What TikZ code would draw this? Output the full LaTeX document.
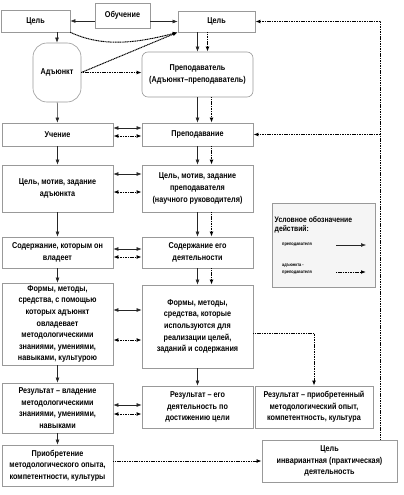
\documentclass[tikz,border=0pt]{standalone}
\usepackage{fontspec}
\setmainfont{Liberation Sans}[FakeStretch=0.85]
\usetikzlibrary{arrows.meta}
\begin{document}
\begin{tikzpicture}[
			x=1pt,y=-1pt,
			box/.style={draw=gray!80,line width=0.6pt,align=center,inner sep=1pt,
					font=\bfseries\fontsize{8.5}{11.6}\selectfont},
			col/.style={box,minimum width=111pt},
			arr/.style={-{Latex[length=5pt,width=3.8pt]},black!85,line width=0.5pt},
			darr/.style={arr,black,dash pattern=on 1.1pt off 0.6pt,line width=1pt},
			darrb/.style={{Latex[length=5pt,width=3.8pt]}-{Latex[length=5pt,width=3.8pt]},black,dash pattern=on 1.1pt off 0.6pt,line width=1pt},
			arrb/.style={{Latex[length=5pt,width=3.8pt]}-{Latex[length=5pt,width=3.8pt]},black!85,line width=0.5pt},
			legtxt/.style={font=\bfseries\fontsize{4.6}{6.6}\selectfont,align=left,inner sep=0pt}
		]
		\useasboundingbox (0,0) rectangle (404,495);

		% top row
		\node[box,minimum width=69pt,minimum height=22pt] (celL) at (35.5,21) {Цель};
		\node[box,minimum width=55pt,minimum height=25pt] (obuch) at (122.5,15.5) {Обучение};
		\node[box,minimum width=77pt,minimum height=21pt] (celR) at (216.5,21.5) {Цель};
		\node[box,minimum width=48pt,minimum height=59pt,rounded corners=14pt] (adj) at (57,72.5) {Адъюнкт};
		\node[col,minimum height=45pt,rounded corners=6pt] (prep) at (197.5,74.5) {Преподаватель\\(Адъюнкт–преподаватель)};

		% left column
		\node[col,minimum height=23pt] (uch) at (57.5,134.5) {Учение};
		\node[col,minimum height=47pt] (celL2) at (57.5,188.5) {Цель, мотив, задание\\адъюнкта};
		\node[col,minimum height=31pt] (sodL) at (57.5,252.5) {Содержание, которым он\\владеет};
		\node[col,minimum height=82pt] (formL) at (57.5,324) {Формы, методы,\\средства, с помощью\\которых адъюнкт\\овладевает\\методологическими\\знаниями, умениями,\\навыками, культурою};
		\node[col,minimum height=50pt] (resL) at (57.5,408) {Результат – владение\\методологическими\\знаниями, умениями,\\навыками};
		\node[col,minimum height=41pt] (acq) at (57.5,465.5) {Приобретение\\методологического опыта,\\компетентности, культуры};

		% right column
		\node[col,minimum height=23pt] (prepd) at (197.5,134.5) {Преподавание};
		\node[col,minimum height=47pt] (celR2) at (197.5,188.5) {Цель, мотив, задание\\преподавателя\\(научного руководителя)};
		\node[col,minimum height=31pt] (sodR) at (197.5,252.5) {Содержание его\\деятельности};
		\node[col,minimum height=83pt] (formR) at (197.5,326.5) {Формы, методы,\\средства, которые\\используются для\\реализации целей,\\заданий и содержания};
		\node[col,minimum height=42pt] (resM) at (197.5,407) {Результат – его\\деятельность по\\достижению цели};
		\node[box,minimum width=118pt,minimum height=42pt] (resR) at (314,407) {Результат – приобретенный\\методологический опыт,\\компетентность, культура};
		\node[box,minimum width=135pt,minimum height=42pt] (goal) at (329.5,461) {Цель\\инвариантная (практическая)\\деятельность};

		% legend
		\node[draw=gray!80,fill=gray!8,line width=0.6pt,minimum width=103pt,minimum height=84pt] (legend) at (323.5,245) {};
		\node[legtxt,anchor=north west,font=\bfseries\fontsize{8}{9.5}\selectfont] (legT) at (274.5,216) {Условное обозначение\\действий:};
		\node[legtxt,anchor=west] (legA) at (282,245) {преподавателя};
		\node[legtxt,anchor=west] (legB) at (282,269.5) {адъюнкта -\\преподавателя};
		\coordinate (legA1) at (336,245);
		\coordinate (legA2) at (366,245);
		\coordinate (legB1) at (336,272);
		\coordinate (legB2) at (366,272);
		\draw[arr] (legA1) -- (legA2);
		\draw[darr] (legB1) -- (legB2);

		% top connections
		\draw[arr] (obuch.west |- celL) -- (celL.east);
		\draw[arr] (obuch.east |- celR) -- (celR.west);
		\draw[arr] (celL.south -| adj) -- (adj.north);
		\draw[darr] (celL.south east) .. controls +(30,14) and +(-45,12) .. (celR.south west);
		\draw[darr] (adj.east) -- (celR.south west);
		\draw[darr] (adj.east) -- (adj.east -| prep.west);
		\draw[arr] (prep.north |- celR.south) -- (prep.north);
		\draw[darr] ([xshift=10pt]prep.north |- celR.south) -- ([xshift=10pt]prep.north);

		% left chain
		\draw[arr] (adj) -- (uch);
		\draw[arr] (uch) -- (celL2);
		\draw[arr] (celL2) -- (sodL);
		\draw[arr] (sodL) -- (formL);
		\draw[arr] (formL) -- (resL);
		\draw[arr] (resL) -- (acq);

		% right chain
		\draw[arr] (prep) -- (prepd);
		\draw[darr] ([xshift=14pt]prep.south) -- ([xshift=14pt]prepd.north);
		\draw[arr] (prepd) -- (celR2);
		\draw[darr] ([xshift=14pt]prepd.south) -- ([xshift=14pt]celR2.north);
		\draw[arr] (celR2) -- (sodR);
		\draw[darr] ([xshift=14pt]celR2.south) -- ([xshift=14pt]sodR.north);
		\draw[arr] (sodR) -- (formR);
		\draw[darr] ([xshift=14pt]sodR.south) -- ([xshift=14pt]formR.north);
		\draw[arr] (formR) -- (resM);
		\draw[darr] ([yshift=-6.5pt]formR.east) -| (resR.north);

		% between columns
		\draw[arrb] ([yshift=6.5pt]uch.east) -- ([yshift=6.5pt]prepd.west);
		\draw[darrb] ([yshift=-1.5pt]uch.east) -- ([yshift=-1.5pt]prepd.west);
		\draw[arrb] ([yshift=14.5pt]celL2.east) -- ([yshift=14.5pt]celR2.west);
		\draw[darrb] ([yshift=-3.5pt]celL2.east) -- ([yshift=-3.5pt]celR2.west);
		\draw[arrb] ([yshift=3.5pt]sodL.east) -- ([yshift=3.5pt]sodR.west);
		\draw[darrb] ([yshift=-4.5pt]sodL.east) -- ([yshift=-4.5pt]sodR.west);
		\draw[arrb] ([yshift=14pt]formL.east) -- ([yshift=14pt]formL.east -| formR.west);
		\draw[darrb] ([yshift=-16pt]formL.east) -- ([yshift=-16pt]formL.east -| formR.west);
		\draw[arrb] ([yshift=3pt]resL.east) -- ([yshift=3pt]resL.east -| resM.west);
		\draw[darrb] ([yshift=-6pt]resL.east) -- ([yshift=-6pt]resL.east -| resM.west);

		% back to the goal
		\draw[darr] (acq.east |- goal.west) -- (goal.west);
		\coordinate (rt) at ([xshift=50.5pt]goal.north);
		\draw[darr] (rt) |- (celR.east);
		\draw[darr] (rt |- prepd.east) -- (prepd.east);
	\end{tikzpicture}
\end{document}
